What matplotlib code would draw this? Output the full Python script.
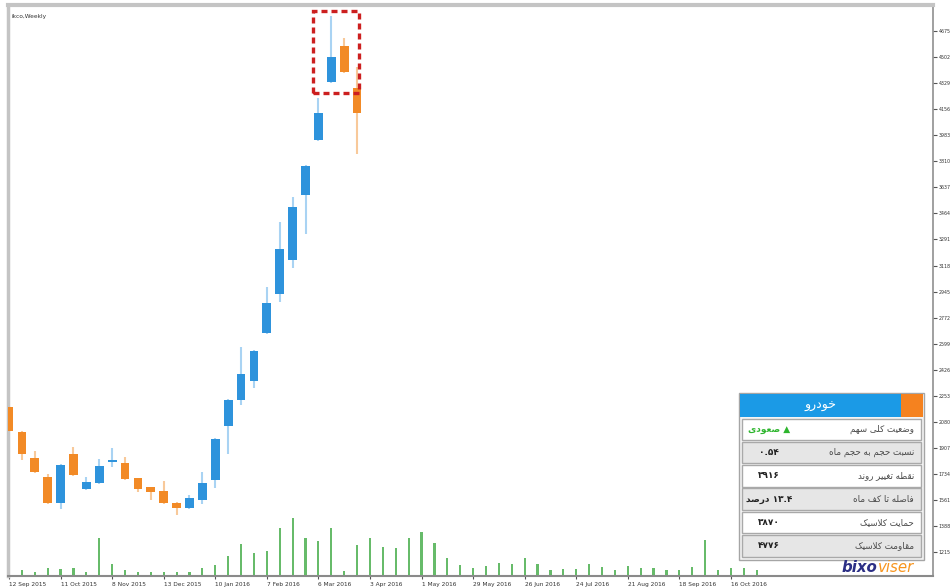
import matplotlib
matplotlib.use("Agg")
import matplotlib.pyplot as plt
from matplotlib.patches import Rectangle
from matplotlib import font_manager
from matplotlib.ft2font import FT2Font

# ---------------- data ----------------
chart_title = "ikco,Weekly"
x_tick_labels = ["12 Sep 2015", "11 Oct 2015", "8 Nov 2015", "13 Dec 2015", "10 Jan 2016",
                 "7 Feb 2016", "6 Mar 2016", "3 Apr 2016", "1 May 2016", "29 May 2016",
                 "26 Jun 2016", "24 Jul 2016", "21 Aug 2016", "18 Sep 2016", "16 Oct 2016"]
price_ticks = [1215, 1388, 1561, 1734, 1907, 2080, 2253, 2426, 2599, 2772, 2945,
               3118, 3291, 3464, 3637, 3810, 3983, 4156, 4329, 4502, 4675]

opens = [2178, 2012, 1839, 1713, 1540, 1866, 1633, 1673, 1813, 1806, 1706, 1647, 1620, 1540,
         1507, 1560, 1693, 2052, 2224, 2351, 2669, 2928, 3154, 3586, 3951, 4336, 4575, 4296]
highs = [2185, 2018, 1886, 1733, 1798, 1912, 1713, 1833, 1906, 1846, 1710, 1650, 1686, 1545,
         1594, 1746, 1970, 2230, 2576, 2555, 2975, 3407, 3573, 3785, 4230, 4775, 4628, 4436]
lows = [2010, 1826, 1740, 1535, 1501, 1720, 1628, 1668, 1780, 1695, 1613, 1560, 1535, 1461,
        1502, 1534, 1640, 1866, 2191, 2304, 2664, 2875, 3101, 3327, 3945, 4330, 4398, 3858]
closes = [2019, 1866, 1746, 1540, 1793, 1726, 1680, 1786, 1826, 1700, 1633, 1613, 1540, 1507,
          1574, 1673, 1965, 2224, 2397, 2550, 2869, 3227, 3506, 3778, 4130, 4502, 4403, 4130]

# weekly volume (relative units), weeks 1..58
volumes = [5, 3, 7, 6, 7, 3, 37, 11, 5, 3, 3, 3, 3, 3, 7, 10, 19, 31, 22, 24, 47, 57, 37, 34,
           47, 4, 30, 37, 28, 27, 37, 43, 32, 17, 10, 7, 9, 12, 11, 17, 11, 5, 6, 6, 11, 8, 5,
           9, 7, 7, 5, 5, 8, 35, 5, 7, 7, 5]

table_title = "خودرو"
table_labels = ["وضعیت کلی سهم", "نسبت حجم به حجم ماه", "نقطه تغییر روند",
                "فاصله تا کف ماه", "حمایت کلاسیک", "مقاومت کلاسیک"]
table_values = ["▲ صعودی", "۰.۵۴", "۳۹۱۶", "۱۳.۴ درصد", "۳۸۷۰", "۴۷۷۶"]

# ---------------- minimal Persian shaping (matplotlib has no shaping) ----------------
FORMS = {
    'ا': (0xFE8D, 0xFE8E, None, None), 'ب': (0xFE8F, 0xFE90, 0xFE91, 0xFE92),
    'ت': (0xFE95, 0xFE96, 0xFE97, 0xFE98), 'ج': (0xFE9D, 0xFE9E, 0xFE9F, 0xFEA0),
    'ح': (0xFEA1, 0xFEA2, 0xFEA3, 0xFEA4), 'خ': (0xFEA5, 0xFEA6, 0xFEA7, 0xFEA8),
    'د': (0xFEA9, 0xFEAA, None, None), 'ر': (0xFEAD, 0xFEAE, None, None),
    'س': (0xFEB1, 0xFEB2, 0xFEB3, 0xFEB4), 'ص': (0xFEB9, 0xFEBA, 0xFEBB, 0xFEBC),
    'ض': (0xFEBD, 0xFEBE, 0xFEBF, 0xFEC0), 'ط': (0xFEC1, 0xFEC2, 0xFEC3, 0xFEC4),
    'ع': (0xFEC9, 0xFECA, 0xFECB, 0xFECC), 'غ': (0xFECD, 0xFECE, 0xFECF, 0xFED0),
    'ف': (0xFED1, 0xFED2, 0xFED3, 0xFED4), 'ق': (0xFED5, 0xFED6, 0xFED7, 0xFED8),
    'ل': (0xFEDD, 0xFEDE, 0xFEDF, 0xFEE0), 'م': (0xFEE1, 0xFEE2, 0xFEE3, 0xFEE4),
    'ن': (0xFEE5, 0xFEE6, 0xFEE7, 0xFEE8), 'ه': (0xFEE9, 0xFEEA, 0xFEEB, 0xFEEC),
    'و': (0xFEED, 0xFEEE, None, None), 'ی': (0xFBFC, 0xFBFD, 0xFBFE, 0xFBFF),
    'ک': (0xFB8E, 0xFB8F, 0xFB90, 0xFB91),
}
try:
    _font = FT2Font(font_manager.findfont(font_manager.FontProperties(family="DejaVu Sans")))
    if _font.get_char_index(0xFB8E) == 0:
        FORMS['ک'] = (0xFED9, 0xFEDA, 0xFEDB, 0xFEDC)
    if _font.get_char_index(0xFBFE) == 0:
        FORMS['ی'] = (0xFEEF, 0xFEF0, 0xFEF3, 0xFEF4)
except Exception:
    pass


def _dual(c):
    return c in FORMS and FORMS[c][2] is not None


def shape_word(w):
    out = []
    i = 0
    while i < len(w):
        c = w[i]
        if c not in FORMS:
            out.append(c)
            i += 1
            continue
        prev_j = i > 0 and _dual(w[i - 1])
        if c == 'ل' and i + 1 < len(w) and w[i + 1] == 'ا':
            out.append(chr(0xFEFC if prev_j else 0xFEFB))
            i += 2
            continue
        next_j = _dual(c) and i + 1 < len(w) and w[i + 1] in FORMS
        iso, fin, ini, med = FORMS[c]
        if prev_j and next_j:
            g = med
        elif prev_j:
            g = fin
        elif next_j:
            g = ini
        else:
            g = iso
        out.append(chr(g))
        i += 1
    return ''.join(reversed(out))


def rtl(s):
    words = s.split(' ')
    vis = []
    for w in words:
        if any(ch in FORMS for ch in w):
            vis.append(shape_word(w))
        else:
            vis.append(w)
    return ' '.join(reversed(vis))


# ---------------- figure ----------------
W, H = 951, 588
fig = plt.figure(figsize=(W / 100, H / 100), dpi=100)
fig.patch.set_facecolor('white')
ax = fig.add_axes([8 / W, 1 - 576 / H, (933 - 8) / W, (576 - 5) / H])

BLUE, BLUE_W = '#2e93dc', '#a9d3f3'
ORANGE, ORANGE_W = '#f28a26', '#f8c99a'

n = len(opens)
xs = list(range(n))
for i in xs:
    up = closes[i] >= opens[i]
    ax.vlines(i, lows[i], highs[i], color=BLUE_W if up else ORANGE_W, lw=1.5, zorder=2)
    lo, hi = min(opens[i], closes[i]), max(opens[i], closes[i])
    ax.bar(i, hi - lo, bottom=lo, width=0.68, color=BLUE if up else ORANGE,
           edgecolor='none', zorder=3)

ax.set_xlim(-0.08, 71.68)
ax.set_ylim(1056, 4848)

# volume in a twin axis
axv = ax.twinx()
vx = list(range(1, len(volumes) + 1))
axv.bar(vx, volumes, width=0.17, color='#4caf50', edgecolor='none', alpha=0.85)
axv.set_ylim(-1, 570)
axv.axis('off')
axv.set_xlim(-0.08, 71.68)

# axes styling
ax.yaxis.tick_right()
ax.set_yticks(price_ticks)
ax.set_yticklabels([str(v) for v in price_ticks])
ax.tick_params(axis='y', length=3, width=0.8, pad=1, labelsize=3.4,
               colors='#555555', labelcolor='#333333')
ax.set_xticks(list(range(0, 4 * len(x_tick_labels), 4)))
ax.set_xticklabels(x_tick_labels, ha='left')
ax.tick_params(axis='x', length=2.5, width=0.8, pad=2, labelsize=4.2,
               colors='#555555', labelcolor='#333333')
ax.spines['top'].set_color('#c4c4c4')
ax.spines['top'].set_linewidth(3)
ax.spines['left'].set_color('#c4c4c4')
ax.spines['left'].set_linewidth(2.5)
ax.spines['right'].set_color('#909090')
ax.spines['right'].set_linewidth(1.2)
ax.spines['bottom'].set_color('#8a8a8a')
ax.spines['bottom'].set_linewidth(1.5)

ax.text(0.004, 0.985, chart_title, transform=ax.transAxes, fontsize=4.2,
        color='#333333', ha='left', va='top')

# highlight box around the peak candles
ax.add_patch(Rectangle((23.58, 4263), 3.57, 545, fill=False, ec='#cc1f1f', lw=2.4,
                       ls=(0, (1.8, 1.2)), zorder=5, clip_on=False))

# ---------------- overlay: info table + logo (pixel coordinates) ----------------
ov = fig.add_axes([0, 0, 1, 1], zorder=10)
ov.set_xlim(0, W)
ov.set_ylim(H, 0)
ov.axis('off')
ov.patch.set_alpha(0)

ov.add_patch(Rectangle((739, 393), 185, 167, fc='#f4f4f4', ec='#a5a5a5', lw=1))
ov.add_patch(Rectangle((740, 394), 161, 23, fc='#1b9ae6', ec='none'))
ov.add_patch(Rectangle((901, 394), 22, 23, fc='#f5821f', ec='none'))
ov.text(820, 405.5, rtl(table_title), color='white', fontsize=9, ha='center',
        va='center', family='DejaVu Sans')

row_h, pitch = 21.5, 23.3
for k, (lab, val) in enumerate(zip(table_labels, table_values)):
    top = 418.5 + k * pitch
    ov.add_patch(Rectangle((742, top), 179, row_h,
                           fc='white' if k % 2 == 0 else '#e6e6e6', ec='#a9a9a9', lw=1))
    ov.text(914, top + row_h / 2, rtl(lab), fontsize=6.3, color='#4a4a4a',
            ha='right', va='center', family='DejaVu Sans')
    ov.text(769, top + row_h / 2, rtl(val), fontsize=6.5, fontweight='bold',
            color='#2db52d' if k == 0 else '#222222', ha='center', va='center',
            family='DejaVu Sans')

t1 = ov.text(842, 568, 'bixo', fontsize=10.8, fontstyle='italic', fontweight='bold',
             color='#2c2f85', ha='left', va='center', family='DejaVu Sans')
ov.annotate('viser', xy=(1, 0.5), xycoords=t1, va='center', ha='left', fontsize=10.8,
            fontstyle='italic', color='#f7941d', family='DejaVu Sans')

fig.savefig('out.png', dpi=100)
